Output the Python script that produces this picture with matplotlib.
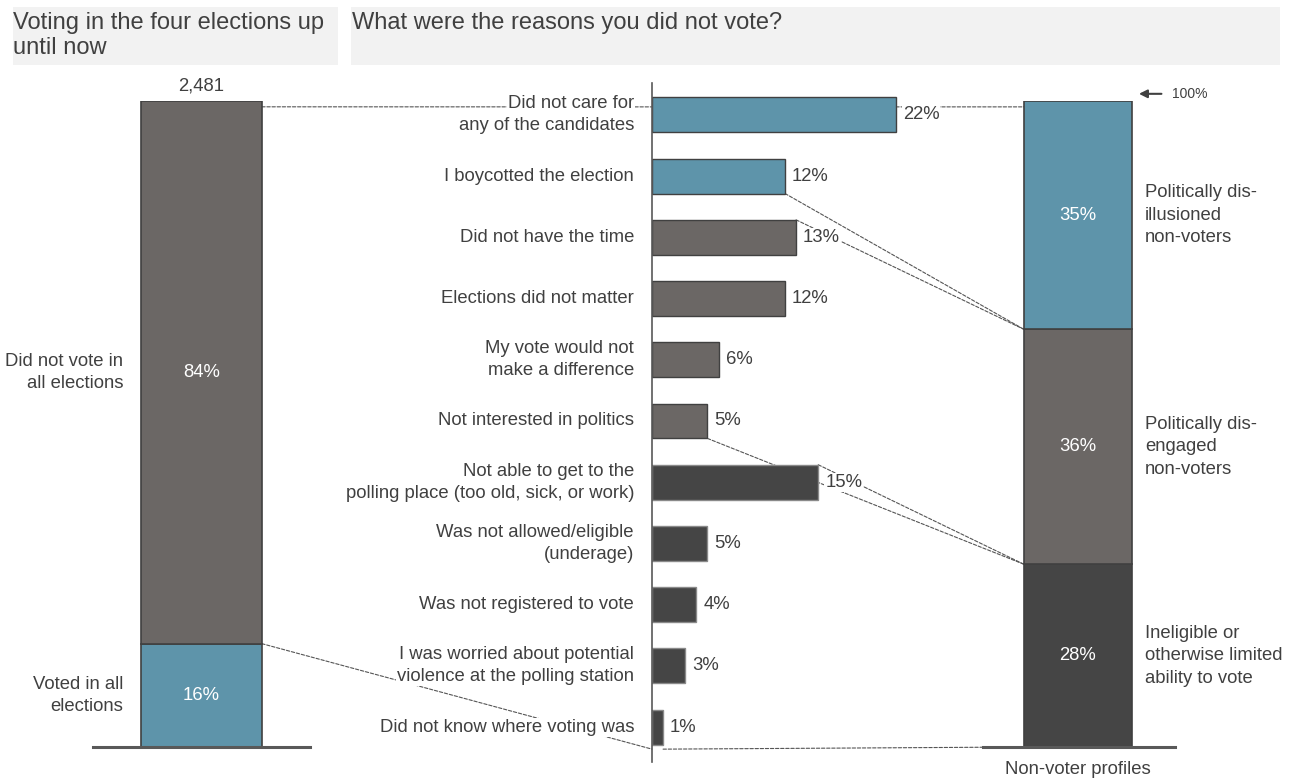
import matplotlib.pyplot as plt
from matplotlib.patches import Rectangle, ConnectionPatch

plt.rcParams['font.family'] = ['Liberation Sans', 'DejaVu Sans']

# data
vote_labels = ["Voted in all\nelections", "Did not vote in\nall elections"]
vote_vals = [16, 84]
n_total = "2,481"

reasons = ["Did not care for\nany of the candidates",
           "I boycotted the election",
           "Did not have the time",
           "Elections did not matter",
           "My vote would not\nmake a difference",
           "Not interested in politics",
           "Not able to get to the\npolling place (too old, sick, or work)",
           "Was not allowed/eligible\n(underage)",
           "Was not registered to vote",
           "I was worried about potential\nviolence at the polling station",
           "Did not know where voting was"]
reason_vals = [22, 12, 13, 12, 6, 5, 15, 5, 4, 3, 1]
reason_group = [2, 2, 1, 1, 1, 1, 0, 0, 0, 0, 0]

profile_labels = ["Ineligible or\notherwise limited\nability to vote",
                  "Politically dis-\nengaged\nnon-voters",
                  "Politically dis-\nillusioned\nnon-voters"]
profile_vals = [28, 36, 35]

BLUE = "#5e94aa"
GREY = "#6b6765"
DARK = "#454545"
TXT = "#404040"
EDGE = "#404040"
group_colors = [DARK, GREY, BLUE]
group_edges = ["#8a8a8a", EDGE, EDGE]
FS = 13.3

W, H = 1290, 781
fig = plt.figure(figsize=(W / 100, H / 100), dpi=100)


def px_axes(x0, y0, x1, y1, **kw):
    return fig.add_axes([x0 / W, 1 - y1 / H, (x1 - x0) / W, (y1 - y0) / H], **kw)


def lines_text(ax, x, y, text, dx=0, spacing=22, ha='left', **kw):
    parts = text.split("\n")
    n = len(parts)
    for k, s in enumerate(parts):
        dy = ((n - 1) / 2 - k) * spacing
        ax.annotate(s, xy=(x, y), xytext=(dx, dy), textcoords='offset pixels',
                    ha=ha, va='center', fontsize=FS, color=TXT,
                    annotation_clip=False, **kw)


# background axes for title boxes and connectors
ax_bg = px_axes(0, 0, W, H, zorder=-1)
ax_bg.set_xlim(0, W)
ax_bg.set_ylim(H, 0)
ax_bg.axis('off')
ax_bg.add_patch(Rectangle((13, 7), 325, 58, color="#f2f2f2", lw=0))
ax_bg.add_patch(Rectangle((351, 7), 929, 58, color="#f2f2f2", lw=0))
ax_bg.text(13, 23, "Voting in the four elections up", fontsize=17, color=TXT, va='center')
ax_bg.text(13, 48, "until now", fontsize=17, color=TXT, va='center')
ax_bg.text(352, 23, "What were the reasons you did not vote?", fontsize=17, color=TXT, va='center')

# left: stacked bar
ax_l = px_axes(93, 101, 310, 747)
ax_l.patch.set_alpha(0)
ax_l.set_xlim(-0.9, 0.9)
ax_l.set_ylim(0, sum(vote_vals))
ax_l.axis('off')
bottom = 0
for lab, v, c in zip(vote_labels, vote_vals, [BLUE, GREY]):
    ax_l.bar(0, v, width=1, bottom=bottom, color=c, edgecolor=EDGE, lw=1.2)
    ax_l.text(0, bottom + v / 2, f"{v}%", ha='center', va='center', color='white', fontsize=FS)
    lines_text(ax_l, -0.5, bottom + v / 2, lab, dx=-18, ha='right')
    bottom += v
ax_l.axhline(0, color="#595959", lw=2.2, clip_on=False)
ax_l.annotate(n_total, xy=(0, sum(vote_vals)), xytext=(0, 15), textcoords='offset pixels',
              ha='center', va='center', fontsize=FS, color=TXT)

# middle: horizontal bars
ax_m = px_axes(652, 83, 1010, 762)
ax_m.patch.set_alpha(0)
ax_m.set_xlim(0, 32.3)
ax_m.set_ylim(10.57, -0.52)
for s in ['top', 'right', 'bottom']:
    ax_m.spines[s].set_visible(False)
ax_m.spines['left'].set_color("#595959")
ax_m.spines['left'].set_linewidth(1.2)
ax_m.set_xticks([])
ax_m.set_yticks([])
bh = 0.57
box = dict(boxstyle='square,pad=0.05', fc='white', ec='none')
for i, (lab, v, g) in enumerate(zip(reasons, reason_vals, reason_group)):
    ax_m.barh(i, v, height=bh, color=group_colors[g], edgecolor=group_edges[g], lw=1)
    ax_m.annotate(f"{v}%", xy=(v, i), xytext=(7, 0), textcoords='offset pixels',
                  ha='left', va='center', fontsize=FS, color=TXT, bbox=box)
    lines_text(ax_m, 0, i, lab, dx=-18, ha='right', bbox=box)

# right: non-voter profiles
ax_r = px_axes(983, 101, 1175, 747)
ax_r.patch.set_alpha(0)
ax_r.set_xlim(-0.88, 0.9)
ax_r.set_ylim(0, sum(profile_vals))
ax_r.axis('off')
bottom = 0
bounds = []
for lab, v, c in zip(profile_labels, profile_vals, group_colors):
    ax_r.bar(0, v, width=1, bottom=bottom, color=c, edgecolor=EDGE, lw=1.2)
    ax_r.text(0, bottom + v / 2, f"{v}%", ha='center', va='center', color='white', fontsize=FS)
    lines_text(ax_r, 0.62, bottom + v / 2, lab, spacing=22.5)
    bounds.append(bottom)
    bottom += v
bounds.append(bottom)
ax_r.axhline(0, color="#595959", lw=2.2, clip_on=False)
ax_r.annotate("", xy=(0.54, 100.1), xytext=(0.8, 100.1),
              arrowprops=dict(arrowstyle='-|>', color=TXT, lw=1.5, mutation_scale=12),
              annotation_clip=False)
ax_r.text(0.87, 100.1, "100%", fontsize=10, color=TXT, va='center', ha='left', clip_on=False)
ax_r.annotate("Non-voter profiles", xy=(0, 0), xytext=(0, -23), textcoords='offset pixels',
              ha='center', va='center', fontsize=FS, color=TXT)


def connect(axA, xyA, axB, xyB):
    con = ConnectionPatch(xyA=xyA, coordsA=axA.transData, xyB=xyB, coordsB=axB.transData,
                          color="#555555", lw=0.8, ls=(0, (3, 1.6)), clip_on=False)
    ax_bg.add_artist(con)


# left bar -> reasons
connect(ax_l, (0.5, 99.1), ax_m, (0, -0.13))
connect(ax_l, (0.5, vote_vals[0]), ax_m, (0, 10.36))

# reasons -> profiles, one pair of lines per group
half = bh / 2
connect(ax_m, (reason_vals[0], -0.13), ax_r, (-0.5, bounds[3] - 0.9))
connect(ax_m, (reason_vals[1], 1 + half), ax_r, (-0.5, bounds[2]))
connect(ax_m, (reason_vals[2], 2 - half), ax_r, (-0.5, bounds[2]))
connect(ax_m, (reason_vals[5], 5 + half), ax_r, (-0.5, bounds[1]))
connect(ax_m, (reason_vals[6], 6 - half), ax_r, (-0.5, bounds[1]))
connect(ax_m, (reason_vals[10], 10.36), ax_r, (-0.5, bounds[0]))

fig.savefig("out.png", dpi=100)
